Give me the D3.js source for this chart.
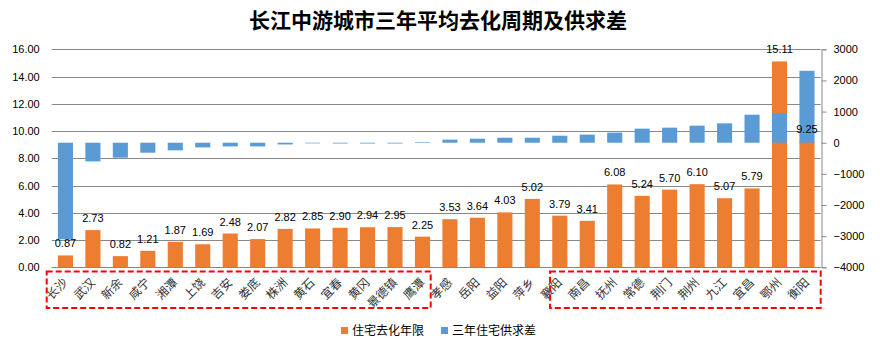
<!DOCTYPE html>
<html><head><meta charset="utf-8">
<script src="https://cdn.jsdelivr.net/npm/d3@7"></script>
<style>
html,body{margin:0;padding:0;background:#fff;}
svg{display:block;}
</style></head>
<body>
<svg id="chart" width="880" height="348"></svg>
<script>
const titleText = "长江中游城市三年平均去化周期及供求差";
const cities = ["长沙","武汉","新余","咸宁","湘潭","上饶","吉安","娄底","株洲","黄石","宜春","黄冈","景德镇","鹰潭","孝感","岳阳","益阳","萍乡","襄阳","南昌","抚州","常德","荆门","荆州","九江","宜昌","鄂州","衡阳"];
const destockYears = [0.87,2.73,0.82,1.21,1.87,1.69,2.48,2.07,2.82,2.85,2.90,2.94,2.95,2.25,3.53,3.64,4.03,5.02,3.79,3.41,6.08,5.24,5.70,6.10,5.07,5.79,15.11,9.25];
const supplyGap = [-3100,-600,-480,-320,-245,-150,-118,-118,-55,-20,-25,-25,-25,20,100,130,160,160,225,260,324,452,484,548,622,900,950,2310];
const leftTicks = [0,2,4,6,8,10,12,14,16];
const rightTicks = [-4000,-3000,-2000,-1000,0,1000,2000,3000];
const seriesNames = ["住宅去化年限","三年住宅供求差"];
const colors = ["#ED7D31","#5B9BD5"];

const svg = d3.select("#chart");
const m = {left:51.7, right:820.7, top:49.3, bottom:267.3};
const numFont = "'Liberation Sans', Arial, sans-serif";
const cjkFont = "'Noto Sans CJK SC', sans-serif";

const x = d3.scaleBand().domain(cities).range([m.left, m.right]).paddingInner(0.45).paddingOuter(0.225);
const yL = d3.scaleLinear().domain([0,16]).range([m.bottom, m.top]);
const yR = d3.scaleLinear().domain([-4000,3000]).range([m.bottom, m.top]);

// title
svg.append("text").attr("x",438).attr("y",28).attr("text-anchor","middle")
  .attr("font-family",cjkFont).attr("font-weight","bold").attr("font-size",21)
  .attr("fill","#000").text(titleText);

// gridlines
svg.append("g").selectAll("line").data(leftTicks).join("line")
  .attr("x1",m.left).attr("x2",m.right)
  .attr("y1",d=>Math.round(yL(d))+0.5).attr("y2",d=>Math.round(yL(d))+0.5)
  .attr("stroke","#898989").attr("stroke-width",1);

// left axis
const gL = svg.append("g").attr("transform",`translate(${m.left},0)`)
  .call(d3.axisLeft(yL).tickValues(leftTicks).tickFormat(d3.format(".2f")).tickSize(0).tickPadding(12));
gL.select(".domain").remove();
gL.selectAll("text").attr("font-family",numFont).attr("font-size",11).attr("fill","#000");

// right axis
const gR = svg.append("g").attr("transform",`translate(${Math.round(m.right)+0.5},0)`)
  .call(d3.axisRight(yR).tickValues(rightTicks).tickFormat(d3.format("d")).tickSize(5).tickPadding(7));
gR.select(".domain").attr("stroke","#898989");
gR.selectAll(".tick line").attr("stroke","#898989");
gR.selectAll("text").attr("font-family",numFont).attr("font-size",11).attr("fill","#000");

// orange bars
svg.append("g").selectAll("rect").data(cities).join("rect")
  .attr("x",d=>x(d)).attr("width",x.bandwidth())
  .attr("y",(d,i)=>yL(destockYears[i])).attr("height",(d,i)=>yL(0)-yL(destockYears[i]))
  .attr("fill",colors[0]);

// blue bars
svg.append("g").selectAll("rect").data(cities).join("rect")
  .attr("x",d=>x(d)).attr("width",x.bandwidth())
  .attr("y",(d,i)=>yR(Math.max(0,supplyGap[i])))
  .attr("height",(d,i)=>Math.abs(yR(supplyGap[i])-yR(0)))
  .attr("fill",colors[1]);

// data labels
svg.append("g").selectAll("text").data(cities).join("text")
  .attr("x",d=>x(d)+x.bandwidth()/2).attr("y",(d,i)=>yL(destockYears[i])-8)
  .attr("text-anchor","middle").attr("font-family",numFont).attr("font-size",11).attr("fill","#000")
  .text((d,i)=>destockYears[i].toFixed(2));

// x-axis line
svg.append("line").attr("x1",m.left).attr("x2",m.right)
  .attr("y1",Math.round(yL(0))+0.5).attr("y2",Math.round(yL(0))+0.5)
  .attr("stroke","#898989");

// x labels
svg.append("g").selectAll("text").data(cities).join("text")
  .attr("transform",d=>`translate(${x(d)+x.bandwidth()/2+3},${m.bottom+16}) rotate(-45)`)
  .attr("text-anchor","end").attr("font-family",cjkFont).attr("font-size",12).attr("fill","#333")
  .text(d=>d);

// red dashed boxes (group ranges by category)
const boxes = [{from:"长沙",to:"鹰潭",dl:-5,dr:-5.5},{from:"襄阳",to:"衡阳",dl:4,dr:0}];
const bandStart = c => x(c) - x.step()*x.paddingInner()/2;
const bandEnd = c => bandStart(c) + x.step();
svg.append("g").selectAll("rect").data(boxes).join("rect")
  .attr("x",d=>bandStart(d.from)+d.dl)
  .attr("y",271.5)
  .attr("width",d=>bandEnd(d.to)+d.dr-(bandStart(d.from)+d.dl))
  .attr("height",36.5)
  .attr("fill","none").attr("stroke","#FF0000").attr("stroke-width",2).attr("stroke-dasharray","6,3");

// legend
const leg = svg.append("g");
const legX = [341,441];
seriesNames.forEach((n,i)=>{
  leg.append("rect").attr("x",legX[i]).attr("y",327).attr("width",7).attr("height",7).attr("fill",colors[i]);
  leg.append("text").attr("x",legX[i]+11).attr("y",335).attr("font-family",cjkFont).attr("font-size",12)
    .attr("fill","#000").text(n);
});
</script>
</body></html>
